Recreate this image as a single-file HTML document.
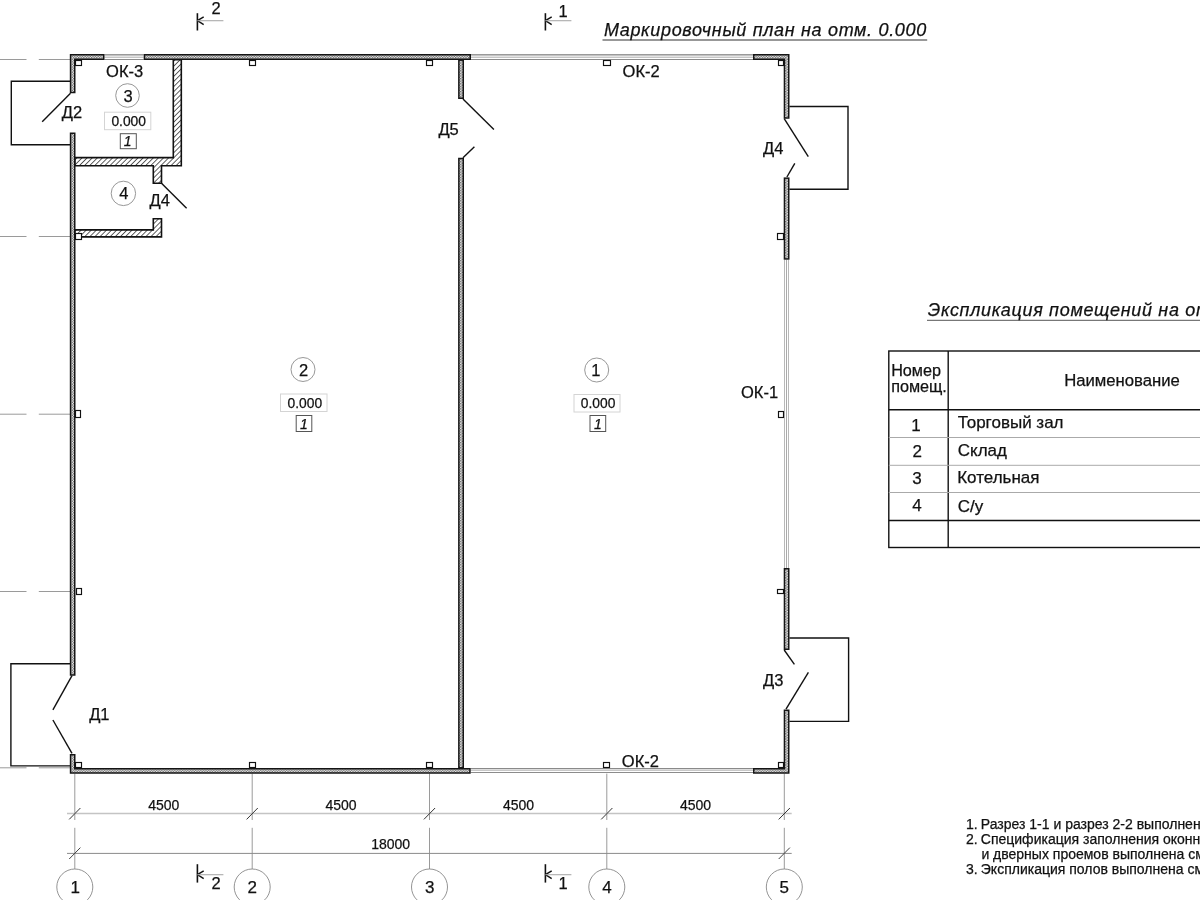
<!DOCTYPE html>
<html><head><meta charset="utf-8"><title>План</title>
<style>
html,body{margin:0;padding:0;background:#fff;}
body{width:1200px;height:900px;overflow:hidden;}
svg{display:block;filter:grayscale(1);}
text{font-family:"Liberation Sans", sans-serif;fill:#111;stroke:#111;stroke-width:0.25px;}
</style></head><body>
<svg width="1200" height="900" viewBox="0 0 1200 900">
<defs>
<pattern id="dots" width="2.6" height="2.6" patternUnits="userSpaceOnUse">
<rect width="2.6" height="2.6" fill="#fff"/>
<rect x="0" y="0" width="1.3" height="1.3" fill="#5a5a5a"/>
<rect x="1.3" y="1.3" width="1.3" height="1.3" fill="#5a5a5a"/>
</pattern>
<pattern id="hatch" width="3.6" height="3.6" patternUnits="userSpaceOnUse" patternTransform="rotate(-45)">
<rect width="3.6" height="3.6" fill="#fff"/>
<rect x="0" y="0" width="3.6" height="0.8" fill="#3a3a3a"/>
</pattern>
</defs>
<rect width="1200" height="900" fill="#fff"/>

<line x1="0" y1="59.5" x2="26.5" y2="59.5" stroke="#9a9a9a" stroke-width="1" />
<line x1="38.8" y1="59.5" x2="70" y2="59.5" stroke="#9a9a9a" stroke-width="1" />
<line x1="0" y1="236.5" x2="26.5" y2="236.5" stroke="#9a9a9a" stroke-width="1" />
<line x1="38.8" y1="236.5" x2="70" y2="236.5" stroke="#9a9a9a" stroke-width="1" />
<line x1="0" y1="414.2" x2="26.5" y2="414.2" stroke="#9a9a9a" stroke-width="1" />
<line x1="38.8" y1="414.2" x2="70" y2="414.2" stroke="#9a9a9a" stroke-width="1" />
<line x1="0" y1="591.5" x2="26.5" y2="591.5" stroke="#9a9a9a" stroke-width="1" />
<line x1="38.8" y1="591.5" x2="70" y2="591.5" stroke="#9a9a9a" stroke-width="1" />
<line x1="0" y1="767.8" x2="26.5" y2="767.8" stroke="#9a9a9a" stroke-width="1" />
<line x1="38.8" y1="767.8" x2="70" y2="767.8" stroke="#9a9a9a" stroke-width="1" />
<line x1="74.8" y1="773.6" x2="74.8" y2="820" stroke="#9a9a9a" stroke-width="1" />
<line x1="74.8" y1="827.8" x2="74.8" y2="869" stroke="#9a9a9a" stroke-width="1" />
<line x1="252.2" y1="773.6" x2="252.2" y2="820" stroke="#9a9a9a" stroke-width="1" />
<line x1="252.2" y1="827.8" x2="252.2" y2="869" stroke="#9a9a9a" stroke-width="1" />
<line x1="429.5" y1="773.6" x2="429.5" y2="820" stroke="#9a9a9a" stroke-width="1" />
<line x1="429.5" y1="827.8" x2="429.5" y2="869" stroke="#9a9a9a" stroke-width="1" />
<line x1="606.8" y1="773.6" x2="606.8" y2="820" stroke="#9a9a9a" stroke-width="1" />
<line x1="606.8" y1="827.8" x2="606.8" y2="869" stroke="#9a9a9a" stroke-width="1" />
<line x1="784.3" y1="773.6" x2="784.3" y2="820" stroke="#9a9a9a" stroke-width="1" />
<line x1="784.3" y1="827.8" x2="784.3" y2="869" stroke="#9a9a9a" stroke-width="1" />
<rect x="104.5" y="54" width="39.19999999999999" height="1" fill="#9a9a9a"/>
<rect x="104.5" y="55" width="39.19999999999999" height="1" fill="#c4c4c4"/>
<rect x="104.5" y="56" width="39.19999999999999" height="1" fill="#e4e4e4"/>
<rect x="104.5" y="57" width="39.19999999999999" height="1" fill="#c6c6c6"/>
<rect x="104.5" y="59" width="39.19999999999999" height="1" fill="#8c8c8c"/>
<rect x="471" y="54" width="282" height="1" fill="#9a9a9a"/>
<rect x="471" y="55" width="282" height="1" fill="#c4c4c4"/>
<rect x="471" y="56" width="282" height="1" fill="#e4e4e4"/>
<rect x="471" y="57" width="282" height="1" fill="#c6c6c6"/>
<rect x="471" y="59" width="282" height="1" fill="#8c8c8c"/>
<rect x="470.7" y="768" width="282.3" height="1" fill="#8a8a8a"/>
<rect x="470.7" y="769" width="282.3" height="1" fill="#dedede"/>
<rect x="470.7" y="770" width="282.3" height="1" fill="#c8c8c8"/>
<rect x="470.7" y="772" width="282.3" height="1" fill="#8c8c8c"/>
<rect x="784" y="259.7" width="1" height="308.3" fill="#b8b8b8"/>
<rect x="786" y="259.7" width="1" height="308.3" fill="#aaaaaa"/>
<rect x="788" y="259.7" width="1" height="308.3" fill="#b8b8b8"/>
<polygon points="69.8,54.0 104.5,54.0 104.5,60.0 75.5,60.0 75.5,93.3 69.8,93.3" fill="#151515"/>
<polygon points="71.3,55.5 103.0,55.5 103.0,58.5 74.0,58.5 74.0,91.8 71.3,91.8" fill="url(#dots)"/>
<polygon points="143.7,54.0 471,54.0 471,60.0 143.7,60.0" fill="#151515"/>
<polygon points="145.2,55.5 469.5,55.5 469.5,58.5 145.2,58.5" fill="url(#dots)"/>
<polygon points="753,54.0 789.5,54.0 789.5,118.7 783.7,118.7 783.7,60.0 753,60.0" fill="#151515"/>
<polygon points="754.5,55.5 788.0,55.5 788.0,117.2 785.2,117.2 785.2,58.5 754.5,58.5" fill="url(#dots)"/>
<polygon points="69.8,132.5 75.5,132.5 75.5,675.7 69.8,675.7" fill="#151515"/>
<polygon points="71.3,134.0 74.0,134.0 74.0,674.2 71.3,674.2" fill="url(#dots)"/>
<polygon points="69.8,753.9 75.5,753.9 75.5,768.0 470.7,768.0 470.7,773.8 69.8,773.8" fill="#151515"/>
<polygon points="71.3,755.4 74.0,755.4 74.0,769.5 469.2,769.5 469.2,772.3 71.3,772.3" fill="url(#dots)"/>
<polygon points="753,768.0 783.7,768.0 783.7,709.4 789.5,709.4 789.5,773.8 753,773.8" fill="#151515"/>
<polygon points="754.5,769.5 785.2,769.5 785.2,710.9 788.0,710.9 788.0,772.3 754.5,772.3" fill="url(#dots)"/>
<polygon points="783.7,177.4 789.5,177.4 789.5,259.7 783.7,259.7" fill="#151515"/>
<polygon points="785.2,178.9 788.0,178.9 788.0,258.2 785.2,258.2" fill="url(#dots)"/>
<polygon points="783.7,568 789.5,568 789.5,650 783.7,650" fill="#151515"/>
<polygon points="785.2,569.5 788.0,569.5 788.0,648.5 785.2,648.5" fill="url(#dots)"/>
<polygon points="458.1,59.4 464.0,59.4 464.0,99 458.1,99" fill="#151515"/>
<polygon points="459.6,60.9 462.5,60.9 462.5,97.5 459.6,97.5" fill="url(#dots)"/>
<polygon points="458.1,157.8 464.0,157.8 464.0,768.6 458.1,768.6" fill="#151515"/>
<polygon points="459.6,159.3 462.5,159.3 462.5,767.1 459.6,767.1" fill="url(#dots)"/>
<polygon points="173.3,59.75 181.3,59.75 181.3,165.75 161.5,165.75 161.5,183.3 153.3,183.3 153.3,165.75 75,165.75 75,157.6 173.3,157.6" fill="url(#hatch)" stroke="#111" stroke-width="1.6" stroke-linejoin="miter"/>
<polygon points="75,229.9 153.3,229.9 153.3,218.8 161.5,218.8 161.5,236.9 75,236.9" fill="url(#hatch)" stroke="#111" stroke-width="1.6" stroke-linejoin="miter"/>
<rect x="75.5" y="60.5" width="6.0" height="5.0" fill="#fff" stroke="#111" stroke-width="1.15"/>
<rect x="249.5" y="60.5" width="6.0" height="5.0" fill="#fff" stroke="#111" stroke-width="1.15"/>
<rect x="426.5" y="60.5" width="6.0" height="5.0" fill="#fff" stroke="#111" stroke-width="1.15"/>
<rect x="603.5" y="60.5" width="7.0" height="5.0" fill="#fff" stroke="#111" stroke-width="1.15"/>
<rect x="778.5" y="60.5" width="5.0" height="5.0" fill="#fff" stroke="#111" stroke-width="1.15"/>
<rect x="75.5" y="233.5" width="6.0" height="6.0" fill="#fff" stroke="#111" stroke-width="1.15"/>
<rect x="75.5" y="410.5" width="5.0" height="7.0" fill="#fff" stroke="#111" stroke-width="1.15"/>
<rect x="76.5" y="588.5" width="5.0" height="6.0" fill="#fff" stroke="#111" stroke-width="1.15"/>
<rect x="75.5" y="762.5" width="6.0" height="5.0" fill="#fff" stroke="#111" stroke-width="1.15"/>
<rect x="777.5" y="233.5" width="6.0" height="6.0" fill="#fff" stroke="#111" stroke-width="1.15"/>
<rect x="778.5" y="411.5" width="5.0" height="6.0" fill="#fff" stroke="#111" stroke-width="1.15"/>
<rect x="777.5" y="589.5" width="6.0" height="4.0" fill="#fff" stroke="#111" stroke-width="1.15"/>
<rect x="778.5" y="762.5" width="5.0" height="5.0" fill="#fff" stroke="#111" stroke-width="1.15"/>
<rect x="249.5" y="762.5" width="6.0" height="5.0" fill="#fff" stroke="#111" stroke-width="1.15"/>
<rect x="426.5" y="762.5" width="6.0" height="5.0" fill="#fff" stroke="#111" stroke-width="1.15"/>
<rect x="603.5" y="762.5" width="6.0" height="5.0" fill="#fff" stroke="#111" stroke-width="1.15"/>
<polyline points="70,81.3 11.3,81.3 11.3,144.7 70,144.7" fill="none" stroke="#111" stroke-width="1.4"/>
<polyline points="70,663.7 10.9,663.7 10.9,765.9 70,765.9" fill="none" stroke="#111" stroke-width="1.4"/>
<polyline points="789.4,106.5 848,106.5 848,189.3 789.4,189.3" fill="none" stroke="#111" stroke-width="1.4"/>
<polyline points="789.4,638 848.6,638 848.6,721.4 789.4,721.4" fill="none" stroke="#111" stroke-width="1.4"/>
<line x1="70.5" y1="93.3" x2="42.2" y2="121.7" stroke="#111" stroke-width="1.4" />
<line x1="72" y1="675.7" x2="52.9" y2="709.9" stroke="#111" stroke-width="1.4" />
<line x1="72" y1="753.4" x2="52.9" y2="720" stroke="#111" stroke-width="1.4" />
<line x1="161.5" y1="183.3" x2="186.6" y2="208.3" stroke="#111" stroke-width="1.4" />
<line x1="784.2" y1="118.7" x2="808.3" y2="156.6" stroke="#111" stroke-width="1.4" />
<line x1="786.9" y1="177" x2="794.8" y2="163.3" stroke="#111" stroke-width="1.4" />
<line x1="784.2" y1="650" x2="794.4" y2="664.4" stroke="#111" stroke-width="1.4" />
<line x1="786" y1="709.2" x2="808.4" y2="672.4" stroke="#111" stroke-width="1.4" />
<line x1="463" y1="99" x2="493.9" y2="129.4" stroke="#111" stroke-width="1.4" />
<line x1="463" y1="157.8" x2="474.4" y2="146.7" stroke="#111" stroke-width="1.4" />
<circle cx="303" cy="369.5" r="12" fill="#fff" stroke="#8c8c8c" stroke-width="0.9"/>
<rect x="280.5" y="394" width="46.5" height="17.5" fill="none" stroke="#d4d4d4" stroke-width="1"/>
<rect x="296.2" y="415.5" width="15.600000000000023" height="16.0" fill="none" stroke="#555" stroke-width="1"/>
<circle cx="596.7" cy="370" r="12" fill="#fff" stroke="#8c8c8c" stroke-width="0.9"/>
<rect x="574" y="394.5" width="46" height="17.5" fill="none" stroke="#d4d4d4" stroke-width="1"/>
<rect x="590" y="415.5" width="15.700000000000045" height="16.0" fill="none" stroke="#555" stroke-width="1"/>
<circle cx="127.5" cy="95.5" r="11.8" fill="#fff" stroke="#8c8c8c" stroke-width="0.9"/>
<rect x="104.5" y="112.2" width="46.30000000000001" height="17.499999999999986" fill="none" stroke="#d4d4d4" stroke-width="1"/>
<rect x="120.3" y="133.7" width="16.000000000000014" height="15.0" fill="none" stroke="#555" stroke-width="1"/>
<circle cx="123.4" cy="193.4" r="12.2" fill="#fff" stroke="#8c8c8c" stroke-width="0.9"/>
<line x1="197.4" y1="13.2" x2="197.4" y2="30.5" stroke="#111" stroke-width="1.6" />
<line x1="197.4" y1="20.7" x2="203.70000000000002" y2="16.8" stroke="#111" stroke-width="1.4" />
<line x1="197.4" y1="20.7" x2="203.70000000000002" y2="24.599999999999998" stroke="#111" stroke-width="1.4" />
<line x1="197.4" y1="20.7" x2="223.4" y2="20.7" stroke="#aaa" stroke-width="1.1" />
<line x1="545.4" y1="13.2" x2="545.4" y2="30.5" stroke="#111" stroke-width="1.6" />
<line x1="545.4" y1="20.7" x2="551.6999999999999" y2="16.8" stroke="#111" stroke-width="1.4" />
<line x1="545.4" y1="20.7" x2="551.6999999999999" y2="24.599999999999998" stroke="#111" stroke-width="1.4" />
<line x1="545.4" y1="20.7" x2="571.4" y2="20.7" stroke="#aaa" stroke-width="1.1" />
<line x1="197.4" y1="864.2" x2="197.4" y2="882.6" stroke="#111" stroke-width="1.6" />
<line x1="197.4" y1="874.7" x2="203.70000000000002" y2="870.8000000000001" stroke="#111" stroke-width="1.4" />
<line x1="197.4" y1="874.7" x2="203.70000000000002" y2="878.6" stroke="#111" stroke-width="1.4" />
<line x1="197.4" y1="874.7" x2="223.4" y2="874.7" stroke="#aaa" stroke-width="1.1" />
<line x1="545.4" y1="864.2" x2="545.4" y2="882.6" stroke="#111" stroke-width="1.6" />
<line x1="545.4" y1="874.7" x2="551.6999999999999" y2="870.8000000000001" stroke="#111" stroke-width="1.4" />
<line x1="545.4" y1="874.7" x2="551.6999999999999" y2="878.6" stroke="#111" stroke-width="1.4" />
<line x1="545.4" y1="874.7" x2="571.4" y2="874.7" stroke="#aaa" stroke-width="1.1" />
<line x1="67" y1="813.6" x2="791.7" y2="813.6" stroke="#c4c4c4" stroke-width="1.5" />
<line x1="67" y1="853.4" x2="791.7" y2="853.4" stroke="#8a8a8a" stroke-width="1" />
<line x1="69.2" y1="819.4" x2="80.39999999999999" y2="808.0" stroke="#333" stroke-width="1" />
<line x1="246.6" y1="819.4" x2="257.8" y2="808.0" stroke="#333" stroke-width="1" />
<line x1="423.9" y1="819.4" x2="435.1" y2="808.0" stroke="#333" stroke-width="1" />
<line x1="601.1999999999999" y1="819.4" x2="612.4" y2="808.0" stroke="#333" stroke-width="1" />
<line x1="778.6999999999999" y1="819.4" x2="789.9" y2="808.0" stroke="#333" stroke-width="1" />
<line x1="69.2" y1="859.0" x2="80.39999999999999" y2="847.6" stroke="#444" stroke-width="1" />
<line x1="778.6999999999999" y1="859.0" x2="789.9" y2="847.6" stroke="#444" stroke-width="1" />
<circle cx="74.8" cy="887" r="18" fill="#fff" stroke="#888" stroke-width="0.9"/>
<circle cx="252.2" cy="887" r="18" fill="#fff" stroke="#888" stroke-width="0.9"/>
<circle cx="429.5" cy="887" r="18" fill="#fff" stroke="#888" stroke-width="0.9"/>
<circle cx="606.8" cy="887" r="18" fill="#fff" stroke="#888" stroke-width="0.9"/>
<circle cx="784.3" cy="887" r="18" fill="#fff" stroke="#888" stroke-width="0.9"/>
<line x1="602.5" y1="40" x2="927.2" y2="40" stroke="#333" stroke-width="1.2" />
<line x1="927" y1="320.4" x2="1200" y2="320.4" stroke="#777" stroke-width="1.2" />
<rect x="888.8" y="351" width="331.20000000000005" height="196.5" fill="none" stroke="#111" stroke-width="1.4"/>
<line x1="948.2" y1="351" x2="948.2" y2="547.5" stroke="#111" stroke-width="1.4" />
<line x1="888.8" y1="409.8" x2="1220" y2="409.8" stroke="#111" stroke-width="1.4" />
<line x1="888.8" y1="520.5" x2="1220" y2="520.5" stroke="#111" stroke-width="1.4" />
<line x1="888.8" y1="437.5" x2="1220" y2="437.5" stroke="#aaa" stroke-width="1" />
<line x1="888.8" y1="465.3" x2="1220" y2="465.3" stroke="#aaa" stroke-width="1" />
<line x1="888.8" y1="492.5" x2="1220" y2="492.5" stroke="#aaa" stroke-width="1" />
<text x="603.9" y="36.1" text-anchor="start" style="font-size:18px;font-style:italic;letter-spacing:0.67px;" >Маркировочный план на отм. 0.000</text>
<text x="927.8" y="315.8" text-anchor="start" style="font-size:18px;font-style:italic;letter-spacing:0.67px;" >Экспликация помещений на отм. 0.000</text>
<text x="891.15" y="376.14" text-anchor="start" style="font-size:16.2px;" >Номер</text>
<text x="1064.16" y="385.69" text-anchor="start" style="font-size:16.7px;" >Наименование</text>
<text x="957.65" y="428.3" text-anchor="start" style="font-size:17px;" >Торговый зал</text>
<text x="957.8" y="455.7" text-anchor="start" style="font-size:17px;" >Склад</text>
<text x="957.2" y="483.1" text-anchor="start" style="font-size:17px;" >Котельная</text>
<text x="957.8" y="511.9" text-anchor="start" style="font-size:17px;" >С/у</text>
<text x="911.3" y="430.7" text-anchor="start" style="font-size:17px;" >1</text>
<text x="912.45" y="456.9" text-anchor="start" style="font-size:17px;" >2</text>
<text x="912.2" y="483.5" text-anchor="start" style="font-size:17px;" >3</text>
<text x="912.35" y="511.1" text-anchor="start" style="font-size:17px;" >4</text>
<text x="148.25" y="810.0" text-anchor="start" style="font-size:14px;" >4500</text>
<text x="325.5" y="810.0" text-anchor="start" style="font-size:14px;" >4500</text>
<text x="502.9" y="810.0" text-anchor="start" style="font-size:14px;" >4500</text>
<text x="680.0" y="810.0" text-anchor="start" style="font-size:14px;" >4500</text>
<text x="371.15" y="849.2" text-anchor="start" style="font-size:14px;" >18000</text>
<text x="106.05" y="76.55" text-anchor="start" style="font-size:16.5px;" >ОК-3</text>
<text x="622.55" y="76.55" text-anchor="start" style="font-size:16.5px;" >ОК-2</text>
<text x="621.85" y="766.55" text-anchor="start" style="font-size:16.5px;" >ОК-2</text>
<text x="741.0" y="397.55" text-anchor="start" style="font-size:16.5px;" >ОК-1</text>
<text x="299.1" y="375.55" text-anchor="start" style="font-size:16.5px;" >2</text>
<text x="591.15" y="375.55" text-anchor="start" style="font-size:16.5px;" >1</text>
<text x="123.5" y="101.55" text-anchor="start" style="font-size:16.5px;" >3</text>
<text x="119.15" y="199.35" text-anchor="start" style="font-size:16.5px;" >4</text>
<text x="287.6" y="408.46" text-anchor="start" style="font-size:13.8px;" >0.000</text>
<text x="580.85" y="408.46" text-anchor="start" style="font-size:13.8px;" >0.000</text>
<text x="111.45" y="125.66" text-anchor="start" style="font-size:13.8px;" >0.000</text>
<text x="300.1" y="428.6" text-anchor="start" style="font-size:14px;font-style:italic;" >1</text>
<text x="594.05" y="428.8" text-anchor="start" style="font-size:14px;font-style:italic;" >1</text>
<text x="123.85" y="145.8" text-anchor="start" style="font-size:14px;font-style:italic;" >1</text>
<text x="61.75" y="118.15" text-anchor="start" style="font-size:16.5px;" >Д2</text>
<text x="149.6" y="205.55" text-anchor="start" style="font-size:16.5px;" >Д4</text>
<text x="438.44" y="135.15" text-anchor="start" style="font-size:16.5px;" >Д5</text>
<text x="763.1" y="154.15" text-anchor="start" style="font-size:16.5px;" >Д4</text>
<text x="763.1" y="685.75" text-anchor="start" style="font-size:16.5px;" >Д3</text>
<text x="89.2" y="720.45" text-anchor="start" style="font-size:16.5px;" >Д1</text>
<text x="211.6" y="13.55" text-anchor="start" style="font-size:16.5px;" >2</text>
<text x="558.6" y="17.45" text-anchor="start" style="font-size:16.5px;" >1</text>
<text x="211.6" y="889.45" text-anchor="start" style="font-size:16.5px;" >2</text>
<text x="558.6" y="889.45" text-anchor="start" style="font-size:16.5px;" >1</text>
<text x="70.5" y="892.9" text-anchor="start" style="font-size:17px;" >1</text>
<text x="247.6" y="892.9" text-anchor="start" style="font-size:17px;" >2</text>
<text x="424.9" y="892.9" text-anchor="start" style="font-size:17px;" >3</text>
<text x="602.24" y="892.9" text-anchor="start" style="font-size:17px;" >4</text>
<text x="779.5" y="892.9" text-anchor="start" style="font-size:17px;" >5</text>
<text x="966.07" y="828.64" text-anchor="start" style="font-size:14px;" >1.</text>
<text x="980.8" y="828.64" text-anchor="start" style="font-size:14px;" >Разрез 1-1 и разрез 2-2 выполнены смотри лист</text>
<text x="891.15" y="392.24" text-anchor="start" style="font-size:16.2px;" >помещ.</text>
<text x="966.07" y="843.54" text-anchor="start" style="font-size:14px;" >2.</text>
<text x="966.07" y="873.54" text-anchor="start" style="font-size:14px;" >3.</text>
<text x="980.8" y="843.54" text-anchor="start" style="font-size:14px;" >Спецификация заполнения оконных</text>
<text x="981.4" y="858.54" text-anchor="start" style="font-size:14px;" >и дверных проемов выполнена смотри лист</text>
<text x="980.8" y="873.54" text-anchor="start" style="font-size:14px;" >Экспликация полов выполнена смотри лист</text>
</svg>
</body></html>
